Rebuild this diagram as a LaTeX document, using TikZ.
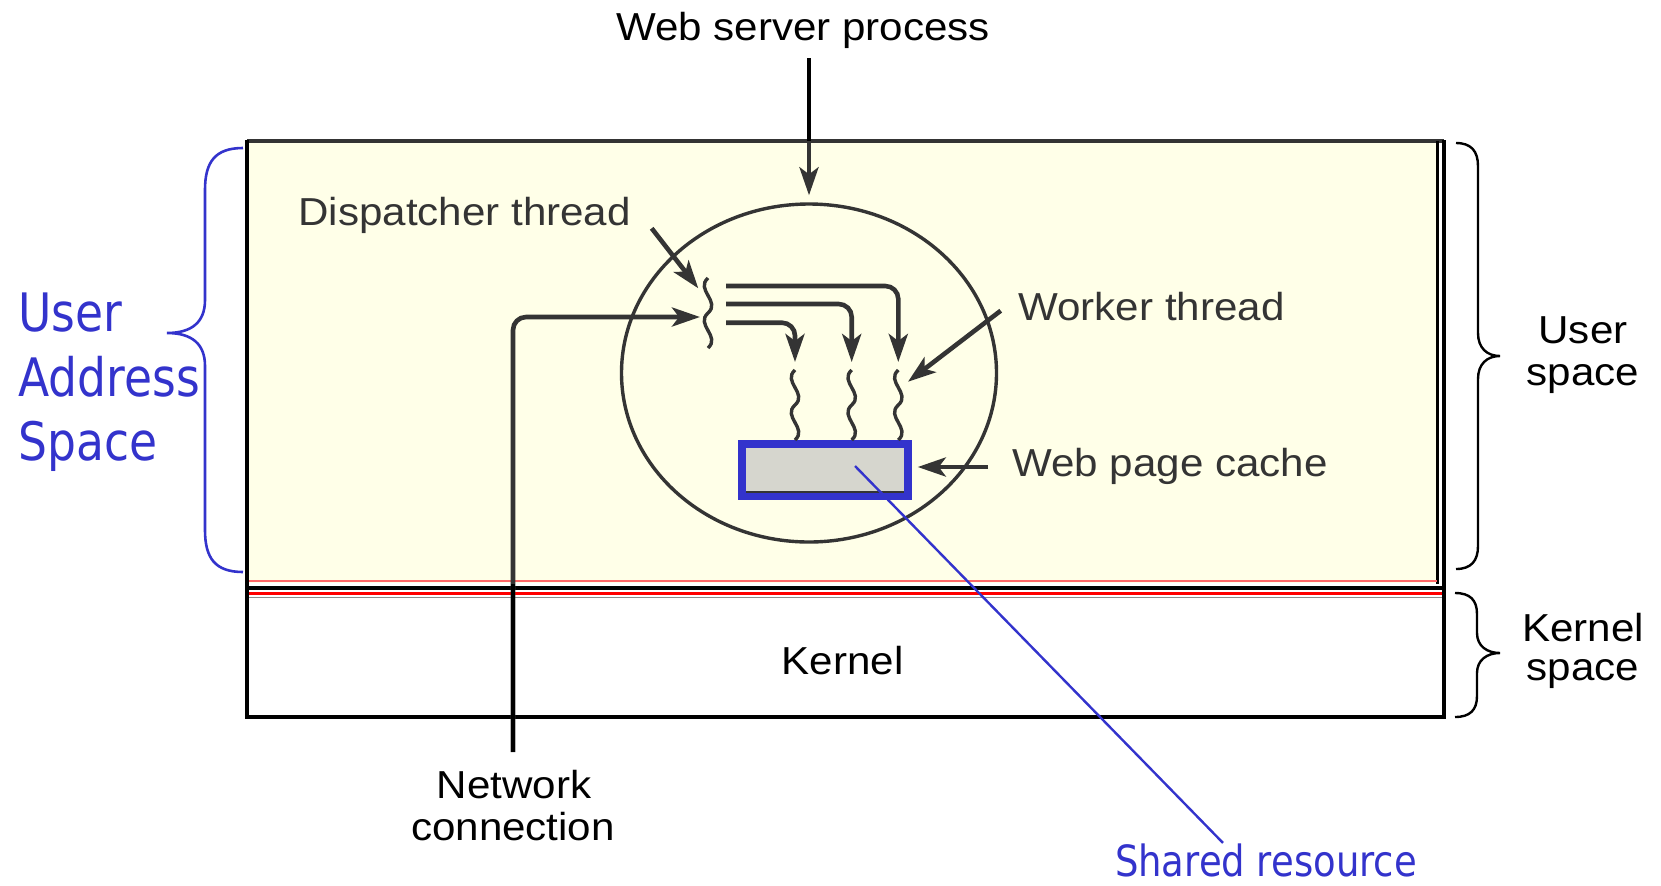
\documentclass[tikz,border=0pt]{standalone}
\usepackage{fontspec}
\setmainfont{Liberation Sans}[FakeStretch=1.08]
\newfontfamily\calloutfont{DejaVu Sans}[FakeStretch=0.86]
\usetikzlibrary{arrows.meta,shapes.geometric}
\definecolor{paper}{RGB}{255,255,232}
\definecolor{ink}{RGB}{52,52,52}
\definecolor{note}{RGB}{51,51,204}
\definecolor{cachegray}{RGB}{214,214,206}
\tikzset{
  label text/.style={font=\fontsize{19.5}{23}\selectfont, inner sep=0pt},
  gray text/.style={label text, text=ink},
  callout text/.style={inner sep=0pt, text=note},
  flow/.style={draw=ink, line width=2.3pt, -{Stealth[length=14pt,width=9.5pt,inset=3.5pt]}},
  thread/.style={draw=ink, line width=1.7pt},
  brace/.style={draw=black, line width=1.2pt},
  bluebrace/.style={draw=note, line width=1.3pt},
}
% a thread: two wave periods running 70 units downwards from (#1,#2)
\newcommand\threadwave[2]{%
  \draw[thread] (#1,#2)
    .. controls ({#1-13},{#2+11.7}) and ({#1+13},{#2+23.3}) .. (#1,{#2+35})
    .. controls ({#1-13},{#2+46.7}) and ({#1+13},{#2+58.3}) .. (#1,{#2+70});}
\begin{document}
\begin{tikzpicture}[x=0.5pt,y=-0.5pt]
\useasboundingbox (0,0) rectangle (1661,885);

% user space region
\fill[paper] (247,141) rectangle (1437,583);
\draw[ink, line width=1.6pt] (247,141) -- (1444,141);
\draw[black, line width=1.5pt] (1437,141) -- (1437,584);
\draw[red!60, line width=0.8pt] (249,581) -- (1437,581);

% kernel region
\draw[black, line width=1.6pt] (247,588) rectangle (1444,717);
\draw[red, line width=1.8pt] (249,593.5) -- (1443,593.5);
\draw[black!45, line width=0.5pt] (249,597) -- (1443,597);
\draw[black, line width=2.2pt] (247,140) -- (247,718);
\draw[black, line width=1.6pt] (1444,140) -- (1444,718);
\node[label text, anchor=base] (kernel) at (842.5,674) {Kernel};

% process, threads and cache
\node[draw=ink, line width=1.7pt, ellipse, minimum width=187.5pt, minimum height=169pt, inner sep=0pt] (proc) at (809,373) {};
\node[draw=note, line width=3.75pt, fill=cachegray, minimum width=83pt, minimum height=26pt, inner sep=0pt] (cache) at (825,470) {};
\draw[ink, line width=0.8pt] (746,492) -- (904,492);

\coordinate (disptop) at (708,278);
\coordinate (w1) at (795,370);
\coordinate (w2) at (851.7,370);
\coordinate (w3) at (898.3,370);
\threadwave{708}{278}
\threadwave{795}{370}
\threadwave{851.7}{370}
\threadwave{898.3}{370}

% dispatcher hands requests to the workers
\coordinate (d1) at (726,286);
\coordinate (d2) at (726,304);
\coordinate (d3) at (726,322.7);
\draw[flow, rounded corners=6.5pt] (d1) -| ([yshift=4pt]w3);
\draw[flow, rounded corners=6.5pt] (d2) -| ([yshift=4pt]w2);
\draw[flow, rounded corners=6.5pt] (d3) -| ([yshift=4pt]w1);

% network connection
\coordinate (netend) at (513,752);
\coordinate (netexit) at (513,584);
\coordinate (dispin) at (700,317);
\draw[flow, rounded corners=6.5pt] (netend) |- (dispin);
\draw[black, line width=2.3pt] (netend) -- (netexit);
\node[label text, anchor=base] (net1) at (514,798.3) {Network};
\node[label text, anchor=base] (net2) at (513,840) {connection};

% web server process
\node[label text, anchor=base] (wsp) at (803,40) {Web server process};
\coordinate (wspstart) at (809,58);
\coordinate (wspentry) at (809,141);
\draw[black, line width=1.7pt] (wspstart) -- (wspentry);
\draw[flow] (wspentry) -- ([yshift=3.5pt]proc.north);

% labels inside the process
\node[gray text, anchor=base west] (disp) at (298,225) {Dispatcher thread};
\coordinate (disptail) at (651.7,228.3);
\coordinate (disptip) at (698.3,288.3);
\draw[flow] (disptail) -- (disptip);

\node[gray text, anchor=base west] (worker) at (1018,320) {Worker thread};
\coordinate (workertail) at (1000.7,310.7);
\coordinate (workertip) at (908,381.7);
\draw[flow] (workertail) -- (workertip);

\node[gray text, anchor=base west] (wpc) at (1012,476.7) {Web page cache};
\coordinate (cachetail) at (988,467);
\draw[flow] (cachetail) -- ([xshift=3pt,yshift=1.5pt]cache.east);

% shared resource callout
\node[callout text, font=\calloutfont\fontsize{21.5}{26}\selectfont, anchor=base] (shared) at (1266,876) {Shared resource};
\coordinate (sharept) at (855,466);
\draw[note, line width=1.2pt] (sharept) -- ([xshift=-21.5pt]shared.north);

% user address space callout
\node[callout text, font=\calloutfont\fontsize{26.5}{32}\selectfont, anchor=base west] (ua1) at (18,331.7) {User};
\node[callout text, font=\calloutfont\fontsize{26.5}{32}\selectfont, anchor=base west] (ua2) at (18,396.7) {Address};
\node[callout text, font=\calloutfont\fontsize{26.5}{32}\selectfont, anchor=base west] (ua3) at (18,460) {Space};
\draw[bluebrace] (243,148) .. controls (215,148) and (205,162) .. (205,190)
  -- (205,300) .. controls (205,322) and (192,333) .. (167,333)
  .. controls (192,333) and (205,344) .. (205,366)
  -- (205,530) .. controls (205,558) and (215,572) .. (243,572);

% user / kernel space braces
\draw[brace] (1456,143) .. controls (1471,143) and (1478,151) .. (1478,166)
  -- (1478,333) .. controls (1478,348) and (1487,356) .. (1500,356)
  .. controls (1487,356) and (1478,364) .. (1478,379)
  -- (1478,546) .. controls (1478,561) and (1471,569) .. (1456,569);
\node[label text, anchor=base] (us1) at (1583,343.3) {User};
\node[label text, anchor=base] (us2) at (1583,385) {space};

\draw[brace] (1455,593) .. controls (1470,593) and (1477,600) .. (1477,614)
  -- (1477,633) .. controls (1477,646) and (1487,653) .. (1500,653)
  .. controls (1487,653) and (1477,660) .. (1477,673)
  -- (1477,696) .. controls (1477,710) and (1470,717) .. (1455,717);
\node[label text, anchor=base] (ks1) at (1583,641) {Kernel};
\node[label text, anchor=base] (ks2) at (1583,680) {space};
\end{tikzpicture}
\end{document}
